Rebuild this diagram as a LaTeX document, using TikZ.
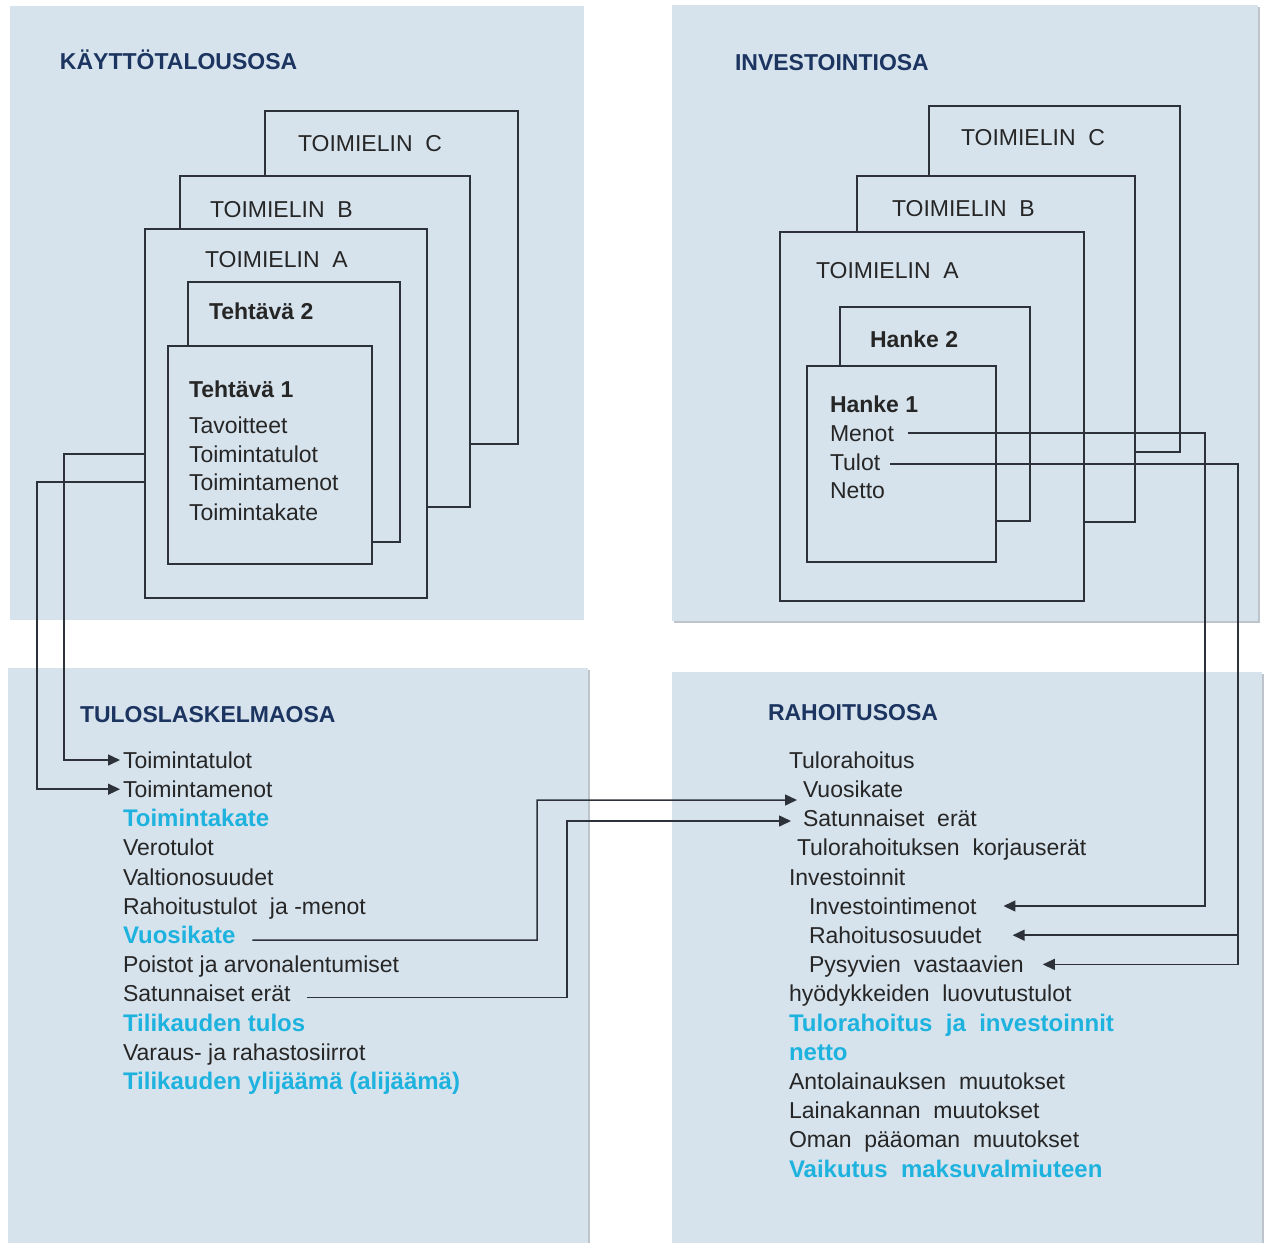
\documentclass[tikz,border=0pt]{standalone}
\usepackage{fontspec}
\setmainfont{Liberation Sans}
\usetikzlibrary{arrows.meta}
\definecolor{panelc}{RGB}{214,227,237}
\definecolor{shadowc}{RGB}{190,196,203}
\definecolor{navyc}{RGB}{28,52,96}
\definecolor{cyanc}{RGB}{30,178,222}
\definecolor{txtc}{RGB}{38,38,38}
\definecolor{linec}{RGB}{45,50,58}
\newcommand\fsz{\fontsize{11.5}{13}\selectfont}
\newcommand\fszb{\fontsize{12}{13}\selectfont}
\tikzset{
  panelst/.style={anchor=north west, fill=panelc, inner sep=0pt, outer sep=0pt},
  shadowst/.style={anchor=north west, fill=shadowc, inner sep=0pt, outer sep=0pt},
  rbx/.style={anchor=north west, fill=panelc, draw=linec, line width=0.75pt, inner sep=0pt, outer sep=0pt},
  txt/.style={anchor=west, inner sep=0pt, outer sep=0pt, text height=8.2pt, text depth=0pt, font=\fsz, text=txtc},
  bld/.style={txt, font=\fsz\bfseries},
  hd/.style={txt, font=\fsz\bfseries, text=navyc},
  cy/.style={txt, font=\fszb\bfseries, text=cyanc},
  conn/.style={draw=linec, line width=0.75pt},
  arr/.style={conn, -{Triangle[length=6pt,width=5.5pt]}},
}
\begin{document}
\begin{tikzpicture}[x=0.5pt,y=-0.5pt]
\useasboundingbox (0,0) rectangle (1265,1243);
% panel shadows
\node[shadowst, minimum width=293pt, minimum height=308pt] at (674,7) {};
\node[shadowst, minimum width=290pt, minimum height=287.5pt] at (10,670) {};
\node[shadowst, minimum width=295pt, minimum height=285.5pt] at (674,674) {};
% panels
\node[panelst, minimum width=287pt, minimum height=307pt] (pTL) at (10,6) {};
\node[panelst, minimum width=293pt, minimum height=308pt] (pTR) at (672,5) {};
\node[panelst, minimum width=290pt, minimum height=287.5pt] (pBL) at (8,668) {};
\node[panelst, minimum width=295pt, minimum height=285.5pt] (pBR) at (672,672) {};

% ---------- top left: KAYTTOTALOUSOSA ----------
\node[hd] (hKT) at (60,61) {KÄYTTÖTALOUSOSA};
\node[rbx, minimum width=126.5pt, minimum height=166.5pt] (tlC) at (265,111) {};
\node[rbx, minimum width=145pt, minimum height=165.5pt] (tlB) at (180,176) {};
\node[rbx, minimum width=141pt, minimum height=184.5pt] (tlA) at (145,229) {};
\node[rbx, minimum width=106pt, minimum height=130pt] (t2) at (188,282) {};
\node[rbx, minimum width=102pt, minimum height=109pt] (t1) at (168,346) {};
\node[txt] (lC) at (298,143) {TOIMIELIN\ \ C};
\node[txt] (lB) at (210,209) {TOIMIELIN\ \ B};
\node[txt] (lA) at (205,259) {TOIMIELIN\ \ A};
\node[bld] (lT2) at (209,311) {Tehtävä 2};
\node[bld] (lT1) at (189,389) {Tehtävä 1};
\node[txt] (t1tav) at (189,425) {Tavoitteet};
\node[txt] (t1tt) at (189,454) {Toimintatulot};
\node[txt] (t1tm) at (189,482) {Toimintamenot};
\node[txt] (t1tk) at (189,512) {Toimintakate};

% ---------- top right: INVESTOINTIOSA ----------
\node[hd] (hIN) at (735,62) {INVESTOINTIOSA};
\node[rbx, minimum width=125.5pt, minimum height=173pt] (trC) at (929,106) {};
\node[rbx, minimum width=139pt, minimum height=173pt] (trB) at (857,176) {};
\node[rbx, minimum width=152pt, minimum height=184.5pt] (trA) at (780,232) {};
\node[rbx, minimum width=95pt, minimum height=107pt] (h2) at (840,307) {};
\node[rbx, minimum width=94.5pt, minimum height=98pt] (h1) at (807,366) {};
\node[txt] (rlC) at (961,137) {TOIMIELIN\ \ C};
\node[txt] (rlB) at (892,208) {TOIMIELIN\ \ B};
\node[txt] (rlA) at (816,270) {TOIMIELIN\ \ A};
\node[bld] (lH2) at (870,339) {Hanke 2};
\node[bld] (lH1) at (830,404) {Hanke 1};
\node[txt] (hmen) at (830,433) {Menot};
\node[txt] (htul) at (830,462) {Tulot};
\node[txt] (hnet) at (830,490) {Netto};

% ---------- bottom left: TULOSLASKELMAOSA ----------
\node[hd] (hTU) at (80,714) {TULOSLASKELMAOSA};
\node[txt] (btt) at (123,760) {Toimintatulot};
\node[txt] (btm) at (123,789.2) {Toimintamenot};
\node[cy]  (btk) at (123,818.4) {Toimintakate};
\node[txt] (bvt) at (123,847.6) {Verotulot};
\node[txt] (bvo) at (123,876.8) {Valtionosuudet};
\node[txt] (brt) at (123,906) {Rahoitustulot\ \ ja -menot};
\node[cy]  (bvk) at (123,935.2) {Vuosikate};
\node[txt] (bpo) at (123,964.4) {Poistot ja arvonalentumiset};
\node[txt] (bse) at (123,993.6) {Satunnaiset erät};
\node[cy]  (btu) at (123,1022.8) {Tilikauden tulos};
\node[txt] (bva) at (123,1052) {Varaus- ja rahastosiirrot};
\node[cy]  (byl) at (123,1081.2) {Tilikauden ylijäämä (alijäämä)};

% ---------- bottom right: RAHOITUSOSA ----------
\node[hd] (hRA) at (768,712) {RAHOITUSOSA};
\node[txt] (rtr) at (789,760) {Tulorahoitus};
\node[txt] (rvk) at (803,789.2) {Vuosikate};
\node[txt] (rse) at (803,818.4) {Satunnaiset\ \ erät};
\node[txt] (rko) at (797,847.6) {Tulorahoituksen\ \ korjauserät};
\node[txt] (rin) at (789,876.8) {Investoinnit};
\node[txt] (invm) at (809,906) {Investointimenot};
\node[txt] (rah) at (809,935.2) {Rahoitusosuudet};
\node[txt] (pys) at (809,964.4) {Pysyvien\ \ vastaavien};
\node[txt] (rhy) at (789,993.6) {hyödykkeiden\ \ luovutustulot};
\node[cy]  (rtj) at (789,1022.8) {Tulorahoitus\ \ ja\ \ investoinnit};
\node[cy]  (rne) at (789,1052) {netto};
\node[txt] (ran) at (789,1081.2) {Antolainauksen\ \ muutokset};
\node[txt] (rla) at (789,1110.4) {Lainakannan\ \ muutokset};
\node[txt] (rom) at (789,1139.6) {Oman\ \ pääoman\ \ muutokset};
\node[cy]  (rva) at (789,1168.8) {Vaikutus\ \ maksuvalmiuteen};

% ---------- connectors ----------
\coordinate (xl1) at (64,0);
\coordinate (xl2) at (37,0);
\coordinate (c3) at (537,800);
\coordinate (c4) at (567,821);
\coordinate (xr1) at (1205,0);
\coordinate (xr2) at (1238,0);

\draw[arr] (tlA.west |- t1tt) -- (t1tt -| xl1) |- ([xshift=-1.5pt]btt.west);
\draw[arr] (tlA.west |- t1tm) -- (t1tm -| xl2) |- ([xshift=-1.5pt]btm.west);

\draw[arr] ([xshift=8.5pt,yshift=-2.5pt]bvk.east) -| (c3) -- ([xshift=-3pt,yshift=-5.4pt]rvk.west);
\draw[arr] ([xshift=8pt,yshift=-2pt]bse.east) -| (c4) -- ([xshift=-6pt,yshift=-1.3pt]rse.west);

\draw[arr] ([xshift=7pt]hmen.east) -| (invm -| xr1) -- ([xshift=13.5pt]invm.east);
\draw[arr] ([xshift=5pt,yshift=-1pt]htul.east) -| (pys -| xr2) -- ([xshift=9.5pt]pys.east);
\draw[arr] (rah -| xr2) -- ([xshift=15.5pt]rah.east);
\end{tikzpicture}
\end{document}
